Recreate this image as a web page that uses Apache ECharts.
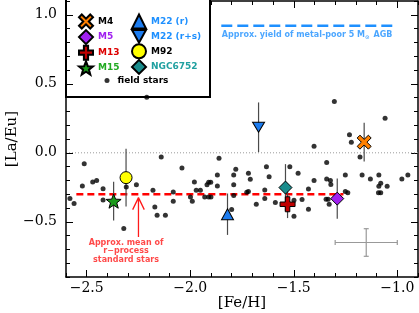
<!DOCTYPE html>
<html>
<head>
<meta charset="utf-8">
<script src="https://cdn.jsdelivr.net/npm/echarts@6.0.0/dist/echarts.min.js"></script>
<style>
html,body{margin:0;padding:0;background:#fff;}
#chart{width:419px;height:313px;}
</style>
</head>
<body>
<div id="chart"></div>
<script>
// ---------------- DATA ----------------
const X_MIN = -2.6, X_MAX = -0.9;
const Y_MIN = -0.9, Y_MAX = 1.1;
const X_TICK_LABELS = [-2.5, -2.0, -1.5, -1.0];
const Y_TICK_LABELS = [-0.5, 0.0, 0.5, 1.0];

const FIELD_FEH = [-2.581,-2.561,-2.512,-2.521,-2.471,-2.452,-2.421,-2.421,-2.321,-2.309,-2.260,-2.180,-2.171,-2.140,-2.040,-2.082,-2.082,-2.160,-2.120,-1.980,-1.999,-1.990,-1.971,-1.951,-1.930,-1.919,-1.911,-1.901,-1.911,-1.900,-1.869,-1.869,-1.861,-1.790,-1.780,-1.790,-1.790,-1.800,-2.210,-1.304,-1.402,-1.719,-1.710,-1.727,-1.719,-1.632,-1.619,-1.640,-1.640,-1.681,-1.589,-1.519,-1.479,-1.499,-1.460,-1.499,-1.429,-1.429,-1.402,-1.341,-1.341,-1.323,-1.321,-1.344,-1.334,-1.329,-1.059,-1.231,-1.222,-1.180,-1.251,-1.170,-1.089,-1.130,-0.978,-0.949,-1.251,-1.239,-1.080,-1.089,-1.049,-1.091,-1.080];
const FIELD_LAEU = [-0.332,-0.368,-0.079,-0.241,-0.212,-0.200,-0.260,-0.342,-0.548,-0.248,-0.231,-0.272,-0.392,-0.031,-0.111,-0.284,-0.351,-0.452,-0.452,-0.212,-0.320,-0.351,-0.272,-0.272,-0.320,-0.231,-0.214,-0.214,-0.320,-0.320,-0.161,-0.241,-0.039,-0.161,-0.120,-0.231,-0.310,-0.411,0.402,0.371,0.048,-0.149,-0.192,-0.286,-0.281,-0.101,-0.173,-0.270,-0.332,-0.373,-0.361,-0.101,-0.149,-0.344,-0.339,-0.460,-0.262,-0.409,-0.200,-0.070,-0.190,-0.200,-0.229,-0.337,-0.337,-0.373,0.250,0.130,0.077,-0.031,-0.161,-0.161,-0.161,-0.190,-0.190,-0.161,-0.281,-0.290,-0.221,-0.243,-0.243,-0.290,-0.290];

const CLUSTER_NAMES = ['M4','M5','M13','M15','M22 (r)','M22 (r+s)','M92','NGC6752'];
const CLUSTER_FEH   = [-1.16, -1.29, -1.53, -2.37, -1.82, -1.67, -2.31, -1.54];
const CLUSTER_LAEU  = [0.077, -0.332, -0.373, -0.35, -0.445, 0.185, -0.18, -0.252];
const CLUSTER_ERR   = [0.14, 0.145, 0.10, 0.14, 0.15, 0.18, 0.21, 0.17];

// reference lines / annotations
const ZERO_LINE_Y = 0.0;
const RPROC_MEAN_Y = -0.30, RPROC_X_FROM = -2.55, RPROC_X_TO = -1.26;
const AGB_Y = 0.92, AGB_X_FROM = -1.85, AGB_X_TO = -1.0;
const ARROW_X = -2.25, ARROW_TIP = -0.325, ARROW_BASE = -0.61;
const SAMPLE_ERR = [-1.15, -0.65, 0.15, 0.10]; // x, y, xerr, yerr

// ---------------- STYLE ----------------
const STYLE = {
  'M4':        {symbol:'x',     size:14, fill:'#ff8000', text:'#000000'},
  'M5':        {symbol:'diamond', size:13, fill:'#a020f0', text:'#a020f0'},
  'M13':       {symbol:'cross', size:15, fill:'#c00000', text:'#dd0000'},
  'M15':       {symbol:'star',  size:15, fill:'#1a9a1a', text:'#22aa22'},
  'M22 (r)':   {symbol:'triangle', size:[12,11], fill:'#1c7cf0', text:'#1e90ff'},
  'M22 (r+s)': {symbol:'tdown', size:[12,11], fill:'#1c7cf0', text:'#1e90ff'},
  'M92':       {symbol:'circle', size:12, fill:'#ffff00', text:'#000000'},
  'NGC6752':   {symbol:'diamond', size:13, fill:'#1a8c8c', text:'#20a0a0'}
};
function starPath(){
  const pts=[];
  for(let i=0;i<10;i++){
    const r = i%2===0 ? 10 : 4.2;
    const a = -Math.PI/2 + i*Math.PI/5;
    pts.push((10+r*Math.cos(a)).toFixed(2)+','+(10+r*Math.sin(a)).toFixed(2));
  }
  return 'path://M'+pts.join(' L')+' Z';
}
const SYMBOLS = {
  x: 'path://M0,2 L2,0 L5,3 L8,0 L10,2 L7,5 L10,8 L8,10 L5,7 L2,10 L0,8 L3,5 Z',
  cross: 'path://M3.5,0 L6.5,0 L6.5,3.5 L10,3.5 L10,6.5 L6.5,6.5 L6.5,10 L3.5,10 L3.5,6.5 L0,6.5 L0,3.5 L3.5,3.5 Z',
  star: starPath(),
  tdown: 'path://M0,0 L10,0 L5,9 Z',
  triangle: 'triangle', diamond: 'diamond', circle: 'circle'
};

const SERIF = 'DejaVu Serif';
const SANS = 'DejaVu Sans';
const fmtNum = v => v.toFixed(1).replace('-', '\u2212');
const isMajor = v => Math.abs(v*2 - Math.round(v*2)) < 1e-6;

function xAxisDef(pos, major, extra){
  return Object.assign({
    type:'value', position:pos, min:X_MIN, max:X_MAX, interval:0.1,
    axisLine:{show:!major, onZero:false, lineStyle:{color:'#000', width:1.5}},
    axisTick:{show:true, inside:true, length:major?7:4, lineStyle:{color:'#000', width:1},
              customValues: major ? X_TICK_LABELS : undefined},
    axisLabel:{show:false},
    splitLine:{show:false}
  }, extra||{});
}
function yAxisDef(pos, major, extra){
  return Object.assign({
    type:'value', position:pos, min:Y_MIN, max:Y_MAX, interval:0.1,
    axisLine:{show:!major, onZero:false, lineStyle:{color:'#000', width:1.5}},
    axisTick:{show:true, inside:true, length:major?7:4, lineStyle:{color:'#000', width:1},
              customValues: major ? Y_TICK_LABELS : undefined},
    axisLabel:{show:false},
    splitLine:{show:false}
  }, extra||{});
}

const xAxes = [
  xAxisDef('bottom', false, {
    name:'[Fe/H]', nameLocation:'middle', nameGap:19, nameMoveOverlap:false,
    nameTextStyle:{fontFamily:SERIF, fontSize:15, color:'#000'},
    axisLabel:{show:true, margin:4, fontFamily:SERIF, fontSize:14, color:'#000',
      formatter: v => isMajor(v) ? fmtNum(v) : ''}
  }),
  xAxisDef('bottom', true),
  xAxisDef('top', false, {z:0}),
  xAxisDef('top', true, {z:0})
];
const yAxes = [
  yAxisDef('left', false, {
    z:5,
    name:'[La/Eu]', nameLocation:'middle', nameGap:46, nameMoveOverlap:false,
    nameTextStyle:{fontFamily:SERIF, fontSize:15, color:'#000'},
    axisLabel:{show:true, margin:9, fontFamily:SERIF, fontSize:14, color:'#000',
      formatter: v => isMajor(v) ? fmtNum(v) : ''}
  }),
  yAxisDef('left', true, {z:5}),
  yAxisDef('right', false),
  yAxisDef('right', true)
];

const series = [];

// zero dotted line
series.push({type:'line', name:'zero', data:[[X_MIN, ZERO_LINE_Y],[X_MAX, ZERO_LINE_Y]],
  symbol:'none', silent:true, z:1,
  lineStyle:{color:'#9a9a9a', width:1, type:[1,2]}});

// r-process mean
series.push({type:'line', name:'rmean', data:[[RPROC_X_FROM, RPROC_MEAN_Y],[RPROC_X_TO, RPROC_MEAN_Y]],
  symbol:'none', silent:true, z:2,
  lineStyle:{color:'#ff0000', width:2.5, type:[7,4]}});

// AGB yield line
series.push({type:'line', name:'agb', data:[[AGB_X_FROM, AGB_Y],[AGB_X_TO, AGB_Y]],
  symbol:'none', silent:true, z:2,
  lineStyle:{color:'#1e90ff', width:2.5, type:[11,5]}});

// AGB text
series.push({type:'scatter', name:'agbtext', data:[[AGB_X_FROM, AGB_Y - 0.068]],
  symbolSize:1, itemStyle:{color:'transparent'}, silent:true, z:3,
  label:{show:true, position:'right', distance:0,
    formatter:'Approx. yield of metal-poor 5 M{s|\u2299} AGB',
    fontFamily:SANS, fontWeight:'bold', fontSize:8, color:'#1e90ff',
    rich:{s:{fontFamily:SANS, fontWeight:'bold', fontSize:5.5, color:'#1e90ff', padding:[5,1,0,0]}}}});

// arrow (shaft + open head)
const AH_DX = 0.028, AH_DY = 0.087;
series.push({type:'line', name:'arrow', silent:true, z:2, symbol:'none',
  data:[[ARROW_X, ARROW_BASE],[ARROW_X, ARROW_TIP],[ARROW_X-AH_DX, ARROW_TIP-AH_DY],
        [ARROW_X, ARROW_TIP],[ARROW_X+AH_DX, ARROW_TIP-AH_DY]],
  lineStyle:{color:'#ff1a1a', width:1.3}});

// arrow text
series.push({type:'scatter', name:'arrowtext', data:[[-2.31, -0.712]],
  symbolSize:1, itemStyle:{color:'transparent'}, silent:true, z:3,
  label:{show:true, position:'inside', formatter:'Approx. mean of\nr\u2212process\nstandard stars',
    fontFamily:SANS, fontWeight:'bold', fontSize:8, lineHeight:8.6, color:'#ff1a1a', align:'center'}});

// sample error bar
series.push({type:'custom', name:'sampleerr', silent:true, z:2,
  data:[SAMPLE_ERR],
  renderItem:function(params, api){
    const x=api.value(0), y=api.value(1), ex=api.value(2), ey=api.value(3);
    const l=api.coord([x-ex,y]), r=api.coord([x+ex,y]), t=api.coord([x,y+ey]), b=api.coord([x,y-ey]);
    const st={stroke:'#999', lineWidth:1.2};
    const c=2.5;
    return {type:'group', children:[
      {type:'line', shape:{x1:l[0],y1:l[1],x2:r[0],y2:r[1]}, style:st},
      {type:'line', shape:{x1:t[0],y1:t[1],x2:b[0],y2:b[1]}, style:st},
      {type:'line', shape:{x1:l[0],y1:l[1]-c,x2:l[0],y2:l[1]+c}, style:st},
      {type:'line', shape:{x1:r[0],y1:r[1]-c,x2:r[0],y2:r[1]+c}, style:st},
      {type:'line', shape:{x1:t[0]-c,y1:t[1],x2:t[0]+c,y2:t[1]}, style:st},
      {type:'line', shape:{x1:b[0]-c,y1:b[1],x2:b[0]+c,y2:b[1]}, style:st}
    ]};
  }});

// cluster error bars
series.push({type:'custom', name:'clustererr', silent:true, z:3,
  data: CLUSTER_FEH.map((x,i)=>[x, CLUSTER_LAEU[i], CLUSTER_ERR[i]]),
  renderItem:function(params, api){
    const x=api.value(0), y=api.value(1), e=api.value(2);
    const a=api.coord([x,y+e]), b=api.coord([x,y-e]);
    return {type:'line', shape:{x1:a[0],y1:a[1],x2:b[0],y2:b[1]}, style:{stroke:'#4a4a4a', lineWidth:1.2}};
  }});

// field stars
series.push({type:'scatter', name:'field stars', z:4,
  data: FIELD_FEH.map((x,i)=>[x, FIELD_LAEU[i]]),
  symbol:'circle', symbolSize:5, itemStyle:{color:'#000'}});

// clusters
CLUSTER_NAMES.forEach((n,i)=>{
  const s = STYLE[n];
  series.push({type:'scatter', name:n, z:6,
    data:[[CLUSTER_FEH[i], CLUSTER_LAEU[i]]],
    symbol:SYMBOLS[s.symbol], symbolSize:s.size, symbolKeepAspect:true,
    itemStyle:{color:s.fill, borderColor:'#000', borderWidth:1, opacity:1}});
});

const legendText = {fontFamily:SANS, fontWeight:'bold', fontSize:9};
const mkLegendData = names => names.map(n=>({name:n, textStyle:{color:STYLE[n].text}}));

const option = {
  animation:false,
  backgroundColor:'#fff',
  grid:{left:66, right:1, top:1, bottom:36, containLabel:false, outerBoundsMode:'none'},
  xAxis:xAxes,
  yAxis:yAxes,
  graphic:[{type:'rect', z:1, shape:{x:66, y:-1, width:144, height:98},
    style:{fill:'#fff', stroke:'#000', lineWidth:2}}],
  legend:[
    {z:8, orient:'vertical', left:78, top:13.5, padding:0, itemWidth:14, itemHeight:14, itemGap:-0.4,
     selectedMode:false, textStyle:legendText, data:mkLegendData(['M4','M5','M13','M15'])},
    {z:8, orient:'vertical', left:131, top:13.5, padding:0, itemWidth:14, itemHeight:14, itemGap:-0.4,
     selectedMode:false, textStyle:legendText, data:mkLegendData(['M22 (r)','M22 (r+s)','M92','NGC6752'])},
    {z:8, orient:'vertical', left:104.5, top:76, padding:0, itemWidth:5, itemHeight:5,
     selectedMode:false, textStyle:Object.assign({color:'#000', padding:[0,0,0,3]}, legendText),
     data:[{name:'field stars', icon:'circle'}]}
  ],
  series:series
};

const chart = echarts.init(document.getElementById('chart'), null, {renderer:'canvas'});
chart.setOption(option);
</script>
</body>
</html>
